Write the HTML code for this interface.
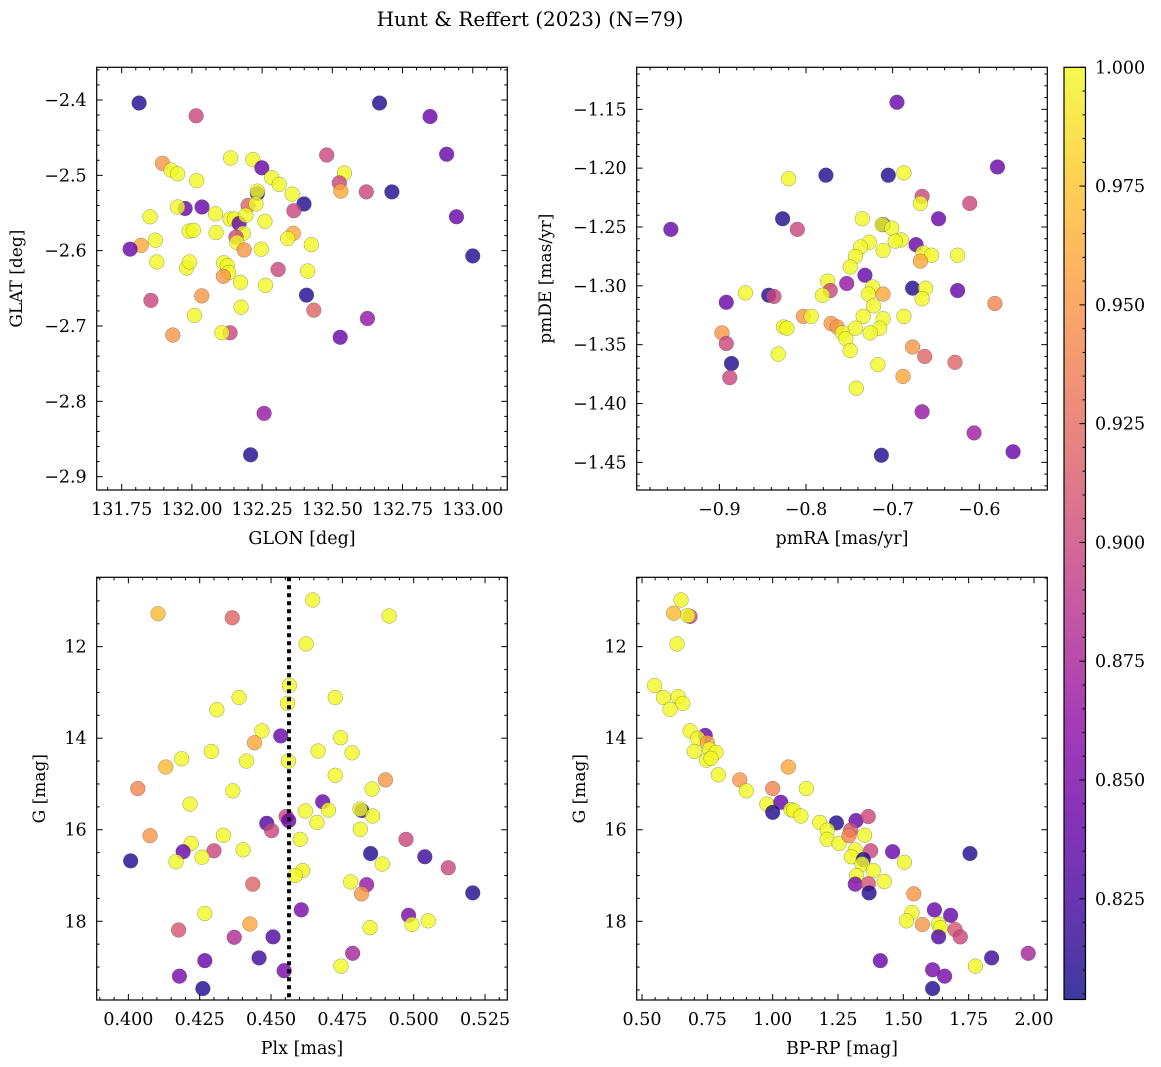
<!DOCTYPE html>
<html><head><meta charset="utf-8">
<style>
html,body{margin:0;padding:0;background:#fff;}
svg{display:block;font-family:"DejaVu Serif","Liberation Serif",serif;}
</style></head>
<body>
<svg id="fig" width="1161" height="1067" viewBox="0 0 1161 1067" xmlns="http://www.w3.org/2000/svg">
<defs>
<linearGradient id="plasma" x1="0" y1="1" x2="0" y2="0">
<stop offset="0" stop-color="#0d0887"/><stop offset="0.1" stop-color="#41049d"/><stop offset="0.2" stop-color="#6a00a8"/><stop offset="0.3" stop-color="#8f0da4"/><stop offset="0.4" stop-color="#b12a90"/><stop offset="0.5" stop-color="#cc4778"/><stop offset="0.6" stop-color="#e16462"/><stop offset="0.7" stop-color="#f2844b"/><stop offset="0.8" stop-color="#fca636"/><stop offset="0.9" stop-color="#fcce25"/><stop offset="1" stop-color="#f0f921"/>
</linearGradient>
</defs>
<text x="530" y="26" font-size="20" text-anchor="middle">Hunt &amp; Reffert (2023) (N=79)</text>
</svg>
<script>
// ---- Panel A: GLON vs GLAT ----
const glon=[131.812,132.015,132.668,132.848,132.907,132.480,132.942,133.000,131.895,131.926,131.949,132.017,132.138,132.217,132.249,132.284,132.311,132.233,132.233,132.357,132.543,132.525,132.530,132.621,132.712,132.399,132.363,131.976,131.949,132.036,132.200,132.228,132.084,131.851,132.136,132.151,132.168,132.192,132.260,131.990,132.005,132.086,132.183,132.157,132.160,132.361,132.341,131.870,131.819,131.780,132.425,132.186,132.247,131.875,131.981,131.991,132.113,132.126,132.131,132.112,132.307,132.412,132.173,132.262,132.408,132.035,131.854,132.434,132.175,132.009,132.625,132.528,131.932,132.136,132.107,132.257,132.209];
const glat=[-2.404,-2.421,-2.404,-2.422,-2.472,-2.473,-2.555,-2.607,-2.484,-2.493,-2.498,-2.507,-2.477,-2.479,-2.490,-2.503,-2.512,-2.524,-2.521,-2.525,-2.497,-2.510,-2.521,-2.522,-2.522,-2.538,-2.547,-2.544,-2.542,-2.542,-2.540,-2.538,-2.551,-2.555,-2.558,-2.558,-2.564,-2.553,-2.561,-2.574,-2.573,-2.576,-2.577,-2.582,-2.589,-2.577,-2.584,-2.586,-2.593,-2.598,-2.592,-2.599,-2.598,-2.615,-2.623,-2.615,-2.616,-2.620,-2.629,-2.634,-2.625,-2.627,-2.642,-2.646,-2.659,-2.660,-2.666,-2.679,-2.675,-2.686,-2.690,-2.715,-2.712,-2.709,-2.709,-2.816,-2.871];
const probA=[0.81,0.90,0.81,0.84,0.84,0.90,0.84,0.81,0.95,1,1,1,1,1,0.84,1,1,0.81,1,1,1,0.90,0.96,0.90,0.81,0.81,0.90,0.84,1,0.84,0.92,1,1,1,1,1,0.84,1,1,1,1,1,1,0.90,1,0.96,1,1,0.96,0.84,1,0.95,1,1,1,1,1,1,1,0.95,0.90,1,1,1,0.81,0.95,0.90,0.92,1,1,0.865,0.84,0.95,0.90,1,0.865,0.81];
// ---- Panel B: pmRA vs pmDE ----
const pmra=[-0.695,-0.579,-0.777,-0.705,-0.687,-0.820,-0.666,-0.668,-0.611,-0.956,-0.827,-0.810,-0.735,-0.647,-0.711,-0.712,-0.701,-0.690,-0.697,-0.727,-0.737,-0.711,-0.673,-0.665,-0.655,-0.625,-0.743,-0.668,-0.749,-0.732,-0.753,-0.775,-0.772,-0.677,-0.662,-0.625,-0.723,-0.728,-0.711,-0.666,-0.781,-0.870,-0.843,-0.837,-0.892,-0.582,-0.722,-0.803,-0.794,-0.734,-0.711,-0.687,-0.771,-0.764,-0.743,-0.715,-0.726,-0.826,-0.822,-0.758,-0.754,-0.897,-0.892,-0.749,-0.832,-0.677,-0.663,-0.886,-0.628,-0.717,-0.688,-0.888,-0.742,-0.666,-0.606,-0.713,-0.561];
const pmde=[-1.144,-1.199,-1.206,-1.206,-1.204,-1.209,-1.224,-1.230,-1.230,-1.252,-1.243,-1.252,-1.243,-1.243,-1.248,-1.248,-1.251,-1.261,-1.262,-1.263,-1.267,-1.270,-1.265,-1.272,-1.274,-1.274,-1.275,-1.279,-1.284,-1.291,-1.298,-1.296,-1.304,-1.302,-1.302,-1.304,-1.301,-1.307,-1.307,-1.311,-1.308,-1.306,-1.308,-1.309,-1.314,-1.315,-1.317,-1.326,-1.326,-1.326,-1.328,-1.326,-1.332,-1.335,-1.336,-1.336,-1.340,-1.335,-1.336,-1.340,-1.345,-1.340,-1.349,-1.355,-1.358,-1.352,-1.360,-1.366,-1.365,-1.367,-1.377,-1.378,-1.387,-1.407,-1.425,-1.444,-1.441];
const probB=[0.84,0.84,0.81,0.81,1,1,0.90,1,0.90,0.84,0.81,0.90,1,0.84,0.81,1,1,1,1,1,1,1,0.84,1,1,1,1,0.96,1,0.84,0.865,1,0.90,0.81,1,0.84,1,1,0.96,1,1,1,0.81,0.90,0.84,0.94,1,0.95,1,1,1,1,0.95,0.95,1,1,1,1,1,1,1,0.95,0.90,1,1,0.95,0.92,0.81,0.92,1,0.96,0.90,1,0.865,0.87,0.81,0.84];
// ---- Panel C: Plx vs G ----
const plx=[0.4646,0.4104,0.4364,0.4914,0.4623,0.4564,0.4558,0.4388,0.4725,0.4310,0.4468,0.4534,0.4442,0.4744,0.4291,0.4665,0.4784,0.4187,0.4414,0.4561,0.4131,0.4725,0.4901,0.4033,0.4366,0.4854,0.4216,0.4681,0.4701,0.4818,0.4812,0.4856,0.4620,0.4553,0.4562,0.4485,0.4661,0.4502,0.4813,0.4602,0.4973,0.4076,0.4333,0.4220,0.4192,0.4300,0.4402,0.4849,0.5039,0.4008,0.4167,0.4258,0.4890,0.5121,0.4611,0.4585,0.4436,0.4779,0.4835,0.4817,0.5207,0.4606,0.4268,0.4982,0.4994,0.5051,0.4426,0.4847,0.4176,0.4371,0.4507,0.4786,0.4268,0.4458,0.4745,0.4179,0.4546,0.4261];
const gmagC=[10.98,11.28,11.37,11.33,11.94,12.85,13.24,13.11,13.11,13.38,13.84,13.95,14.10,13.99,14.29,14.28,14.32,14.45,14.50,14.50,14.63,14.81,14.91,15.10,15.15,15.11,15.44,15.39,15.57,15.58,15.55,15.70,15.59,15.71,15.80,15.86,15.84,16.02,15.99,16.21,16.21,16.13,16.12,16.30,16.48,16.46,16.44,16.52,16.59,16.68,16.70,16.60,16.75,16.83,16.89,17.00,17.19,17.14,17.20,17.40,17.38,17.75,17.83,17.87,18.07,17.99,18.06,18.14,18.19,18.35,18.34,18.70,18.86,18.80,18.98,19.20,19.08,19.47];
const probC=[1,0.97,0.92,1,1,1,1,1,1,1,1,0.84,0.96,1,1,1,1,1,1,1,0.97,1,0.95,0.94,1,1,1,0.84,1,0.81,1,1,1,0.90,0.84,0.83,1,0.90,1,1,0.90,0.95,1,1,0.84,0.90,1,0.81,0.82,0.81,1,1,1,0.90,1,1,0.92,1,0.865,0.95,0.81,0.85,1,0.85,1,1,0.96,1,0.91,0.88,0.83,0.875,0.84,0.82,1,0.85,0.85,0.81];
// ---- Panel D: BP-RP vs G ----
const bprp=[0.649,0.621,0.684,0.675,0.634,0.548,0.582,0.638,0.656,0.607,0.742,0.684,0.713,0.750,0.700,0.758,0.783,0.747,0.764,0.792,1.060,0.874,0.899,1.000,1.129,0.978,1.031,1.000,1.070,1.080,1.108,1.180,1.244,1.319,1.366,1.209,1.208,1.254,1.298,1.292,1.352,1.316,1.375,1.459,1.755,1.301,1.347,1.342,1.504,1.385,1.321,1.316,1.366,1.427,1.369,1.540,1.619,1.533,1.681,1.512,1.573,1.635,1.642,1.698,1.635,1.718,1.412,1.838,1.978,1.776,1.612,1.658,1.612];
const gmagD=[10.98,11.27,11.34,11.32,11.94,12.85,13.11,13.09,13.24,13.37,13.94,13.84,14.00,14.10,14.29,14.24,14.31,14.48,14.44,14.80,14.63,14.91,15.15,15.10,15.10,15.44,15.40,15.62,15.56,15.58,15.70,15.84,15.85,15.80,15.71,16.01,16.21,16.30,16.01,16.13,16.12,16.44,16.46,16.48,16.52,16.59,16.65,16.75,16.71,16.89,17.00,17.19,17.18,17.13,17.38,17.40,17.75,17.81,17.87,17.99,18.07,18.06,18.14,18.18,18.34,18.34,18.86,18.80,18.70,18.98,19.06,19.20,19.47];
const probD=[1,0.97,0.90,1,1,1,1,1,1,1,0.84,1,1,0.96,1,1,1,1,1,1,0.96,0.95,1,0.94,1,1,0.84,0.81,1,1,1,1,0.81,0.84,0.90,1,1,1,0.91,0.94,1,1,0.90,0.84,0.81,1,0.81,1,1,1,1,0.85,0.91,1,0.81,0.95,0.84,1,0.84,1,0.95,1,1,0.91,0.83,0.90,0.84,0.82,0.875,1,0.85,0.85,0.81];
// colorbar
const cbTicks=[0.825,0.850,0.875,0.900,0.925,0.950,0.975,1.000];
const plxRef=0.4563;

const NS='http://www.w3.org/2000/svg';
const svg=document.getElementById('fig');
function mk(tag,attrs,parent){const e=document.createElementNS(NS,tag);for(const k in attrs)e.setAttribute(k,attrs[k]);(parent||svg).appendChild(e);return e;}
const VMIN=0.8038,VMAX=1.0;
const stops=[[13,8,135],[65,4,157],[106,0,168],[143,13,164],[177,42,144],[204,71,120],[225,100,98],[242,132,75],[252,166,54],[252,206,37],[240,249,33]];
function plasma(v){let t=(v-VMIN)/(VMAX-VMIN);t=Math.max(0,Math.min(1,t))*10;const i=Math.min(9,Math.floor(t));const f=t-i;const a=stops[i],b=stops[i+1];return 'rgb('+a.map((c,k)=>Math.round(c+(b[k]-c)*f)).join(',')+')';}
function fmtNum(v,d){const s=Math.abs(v).toFixed(d);return (v<0?'\u2212':'')+s;}
const FS=17.5;

function panel(cfg){
  const {name,x0,x1,y0,y1,xmin,xmax,ymin,ymax,xt,yt,xmin_step,ymin_step,xd,yd,xs,ys,ps,xlabel,ylabel,ylx,invertY}=cfg;
  const g=mk('g',{});
  
  
  const X=v=>x0+(v-xmin)/(xmax-xmin)*(x1-x0);
  const Y=v=>invertY? y0+(v-ymin)/(ymax-ymin)*(y1-y0) : y1-(v-ymin)/(ymax-ymin)*(y1-y0);
  const pg=mk('g',{},g);
  
  
  for(let i=0;i<xs.length;i++){
    const c=mk('circle',{cx:X(xs[i]).toFixed(2),cy:Y(ys[i]).toFixed(2),r:7.4,fill:plasma(ps[i]),'fill-opacity':0.8,stroke:'#555','stroke-width':0.5,'stroke-opacity':0.6},pg);
    
    
  }
  if(cfg.vline!==undefined){
    const l=mk('line',{x1:X(cfg.vline),x2:X(cfg.vline),y1:y0,y2:y1,stroke:'#000','stroke-width':4,'stroke-dasharray':'4 4'},g);
    
    
  }
  const tg=mk('g',{stroke:'#000','stroke-width':1},g);
  const eps=1e-9;
  const xlo=Math.ceil(xmin/xmin_step-eps), xhi=Math.floor(xmax/xmin_step+eps);
  for(let k=xlo;k<=xhi;k++){const v=k*xmin_step;const px=X(v);const major=xt.some(t=>Math.abs(t-v)<xmin_step/10);const L=major?6:3;
    mk('line',{x1:px,x2:px,y1:y1,y2:y1-L},tg);mk('line',{x1:px,x2:px,y1:y0,y2:y0+L},tg);}
  const ylo=Math.ceil(Math.min(ymin,ymax)/ymin_step-eps), yhi=Math.floor(Math.max(ymin,ymax)/ymin_step+eps);
  for(let k=ylo;k<=yhi;k++){const v=k*ymin_step;const py=Y(v);const major=yt.some(t=>Math.abs(t-v)<ymin_step/10);const L=major?6:3;
    mk('line',{x1:x0,x2:x0+L,y1:py,y2:py},tg);mk('line',{x1:x1,x2:x1-L,y1:py,y2:py},tg);}
  xt.forEach(v=>{const t=mk('text',{x:X(v),y:y1+25,'font-size':FS,'text-anchor':'middle'},g);t.textContent=fmtNum(v,xd);
    });
  yt.forEach(v=>{const t=mk('text',{x:x0-10,y:Y(v)+6,'font-size':FS,'text-anchor':'end'},g);t.textContent=fmtNum(v,yd);
    });
  const fr=mk('rect',{x:x0,y:y0,width:x1-x0,height:y1-y0,fill:'none',stroke:'#000','stroke-width':1.2},g);
  
  
  const xl=mk('text',{x:(x0+x1)/2,y:y1+54,'font-size':FS,'text-anchor':'middle'},g);xl.textContent=xlabel;
  
  const cy=(y0+y1)/2;
  const yl=mk('text',{x:ylx,y:cy,'font-size':17,'text-anchor':'middle',transform:'rotate(-90 '+ylx+' '+cy+')'},g);yl.textContent=ylabel;
  
}

panel({name:'glon-glat-panel',x0:96.7,x1:507.3,y0:67.3,y1:490,xmin:131.661,xmax:133.123,ymin:-2.9177,ymax:-2.3566,
  xt:[131.75,132.0,132.25,132.5,132.75,133.0],yt:[-2.4,-2.5,-2.6,-2.7,-2.8,-2.9],xmin_step:0.05,ymin_step:0.02,xd:2,yd:1,
  xs:glon,ys:glat,ps:probA,xlabel:'GLON [deg]',ylabel:'GLAT [deg]',ylx:22});
panel({name:'pm-panel',x0:636.7,x1:1047.3,y0:67.3,y1:490,xmin:-0.9954,xmax:-0.5215,ymin:-1.4735,ymax:-1.1143,
  xt:[-0.9,-0.8,-0.7,-0.6],yt:[-1.15,-1.2,-1.25,-1.3,-1.35,-1.4,-1.45],xmin_step:0.02,ymin_step:0.01,xd:1,yd:2,
  xs:pmra,ys:pmde,ps:probB,xlabel:'pmRA [mas/yr]',ylabel:'pmDE [mas/yr]',ylx:551});
panel({name:'plx-g-panel',x0:96.7,x1:507.3,y0:577.3,y1:1000,xmin:0.3889,xmax:0.5328,ymin:10.485,ymax:19.72,invertY:true,
  xt:[0.4,0.425,0.45,0.475,0.5,0.525],yt:[12,14,16,18],xmin_step:0.005,ymin_step:0.5,xd:3,yd:0,
  xs:plx,ys:gmagC,ps:probC,xlabel:'Plx [mas]',ylabel:'G [mag]',ylx:45,vline:plxRef});
panel({name:'cmd-panel',x0:636.7,x1:1047.3,y0:577.3,y1:1000,xmin:0.4796,xmax:2.051,ymin:10.485,ymax:19.72,invertY:true,
  xt:[0.5,0.75,1.0,1.25,1.5,1.75,2.0],yt:[12,14,16,18],xmin_step:0.05,ymin_step:0.5,xd:2,yd:0,
  xs:bprp,ys:gmagD,ps:probD,xlabel:'BP-RP [mag]',ylabel:'G [mag]',ylx:585});

(function(){
  const cx0=1064,cx1=1085.5,cy0=67.3,cy1=999.5;
  const g=mk('g',{});
  
  
  mk('rect',{x:cx0,y:cy0,width:cx1-cx0,height:cy1-cy0,fill:'url(#plasma)','fill-opacity':0.8},g);
  const Y=v=>cy1-(v-VMIN)/(VMAX-VMIN)*(cy1-cy0);
  for(let k=Math.ceil(VMIN/0.005);k<=200;k++){const v=k*0.005;const major=Math.abs(v*40-Math.round(v*40))<1e-6;
    mk('line',{x1:cx1,x2:cx1-(major?6:3),y1:Y(v),y2:Y(v),stroke:'#000','stroke-width':1},g);}
  cbTicks.forEach(v=>{const t=mk('text',{x:1095,y:Y(v)+6,'font-size':FS},g);t.textContent=v.toFixed(3);
    });
  mk('rect',{x:cx0,y:cy0,width:cx1-cx0,height:cy1-cy0,fill:'none',stroke:'#000','stroke-width':1.2},g);
})();
</script>
</body></html>
